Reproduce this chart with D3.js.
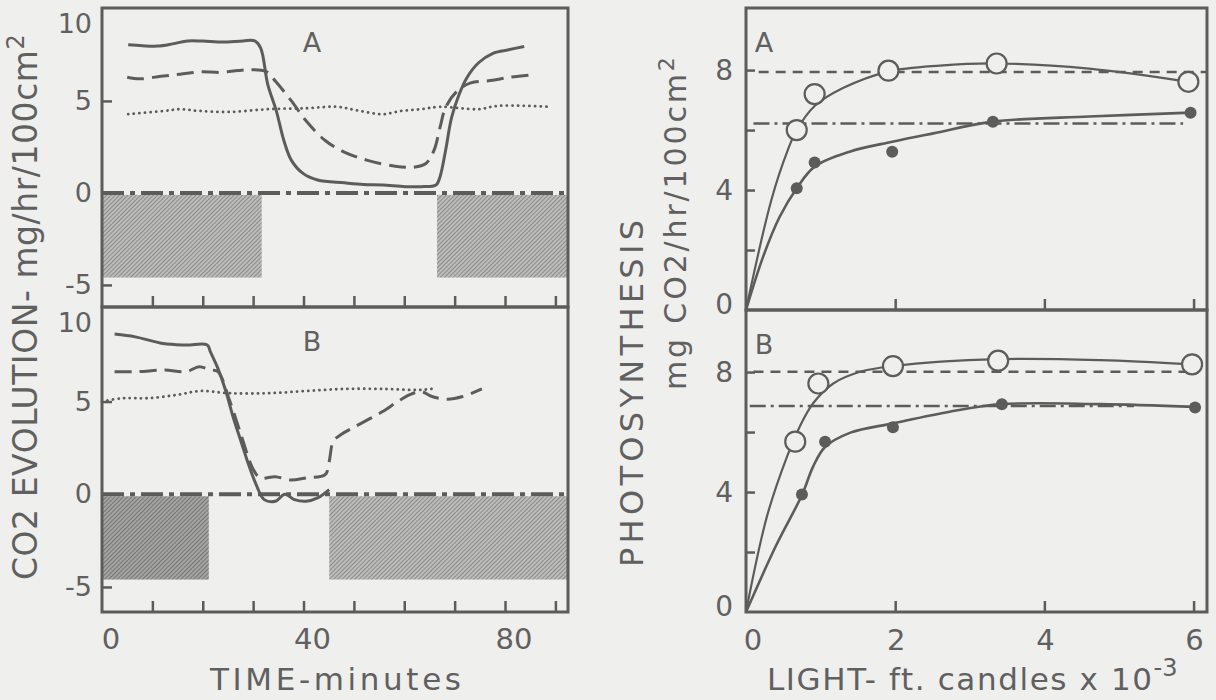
<!DOCTYPE html>
<html><head><meta charset="utf-8">
<script src="https://cdn.jsdelivr.net/npm/d3@7"></script>
<style>
html,body{margin:0;padding:0;background:#efefed;}
svg{display:block;}
text{font-family:"DejaVu Sans",sans-serif;fill:#606060;}
</style>
</head><body>
<svg id="chart" width="1216" height="700"></svg>
<script>
// ---------------- data ----------------
// Left: CO2 evolution vs time (minutes)
const timeTicks = [10,20,30,40,50,60,70,80,90];
const timeLabels = [0,40,80];
const evoTicks = [5,-5];
const evoLabels = [10,5,0,-5];

// Panel A traces [minute, mg/hr/100cm2]
const aSolid = [[5.2,8.05],[8,8.0],[11,7.98],[14,8.1],[17,8.26],[20,8.25],[24,8.2],[28,8.26],[30.3,8.26],[31.5,7.87],[32.9,5.9],[34.6,4.46],[36.1,2.85],[37.6,1.77],[39.9,1.06],[42.8,0.7],[48.1,0.55],[51.9,0.46],[55.7,0.43],[60.2,0.34],[63.3,0.34],[66.3,0.43],[67.1,0.88],[68.2,2.31],[69.4,4.1],[70.9,5.36],[72.4,6.25],[74.7,7.06],[77.7,7.6],[80.7,7.78],[83.8,7.96]];
const aDashed = [[5.0,6.29],[7.5,6.2],[11.7,6.34],[15.5,6.45],[19.5,6.58],[23.5,6.55],[27,6.65],[29.6,6.7],[32.6,6.6],[34.4,6.08],[37.6,5.0],[40.5,3.92],[44.3,2.85],[48.1,2.22],[52.7,1.77],[58.2,1.45],[61.9,1.4],[64.3,1.6],[65.9,2.31],[67.1,3.56],[68.2,4.64],[70.5,5.54],[73.2,5.98],[77.1,6.11],[81.1,6.29],[84.9,6.4]];
const aDotted = [[5.2,4.28],[12.4,4.46],[15.5,4.55],[19.2,4.46],[25.3,4.4],[32.9,4.55],[40.5,4.6],[46.6,4.68],[51.1,4.46],[55.7,4.28],[59.5,4.46],[63.3,4.55],[67.1,4.68],[74.7,4.55],[78.5,4.73],[89.1,4.68]];
const aDark = [[0,31.7],[66.3,92.5]];

// Panel B traces
const bSolid = [[2.5,8.64],[6.6,8.49],[12.1,8.13],[16.7,8.05],[20.9,8.05],[21.5,7.69],[23.0,6.79],[24.6,5.54],[26.1,4.1],[27.6,2.85],[29.1,1.6],[30.6,0.52],[32.2,-0.29],[34.4,-0.38],[36.3,0.0],[38.2,-0.29],[40.5,-0.38],[42.8,-0.2],[45.1,0.25]];
const bDashed = [[2.5,6.61],[7,6.61],[12.4,6.7],[16.7,6.61],[19.3,6.88],[21.5,6.7],[23,6.61],[25.4,5.0],[27.6,3.21],[29.9,1.41],[31.4,0.88],[34.4,0.95],[37.4,0.77],[40.5,0.88],[44.3,1.06],[45.1,1.77],[45.9,2.85],[47.4,3.21],[49.7,3.57],[52.7,4.01],[55.7,4.46],[58.7,5.0],[61.0,5.36],[63.3,5.54],[65.5,5.27],[68.6,5.13],[71.6,5.27],[75.4,5.68]];
const bDotted = [[0,5.0],[4,5.18],[9,5.18],[14.9,5.36],[19.5,5.57],[25.4,5.45],[33,5.45],[40.5,5.57],[48.1,5.68],[55.7,5.68],[63.3,5.63],[66.3,5.72]];
const bDark = [[0,21.2],[44.9,92.5]];
const darkDepth = -4.6;

// Right: photosynthesis vs light (ft. candles x 10^-3)
const lightTicks = [2,4,6];
const lightLabels = [0,2,4,6];
const photoTicks = [2,4,6,8];
const photoLabels = [0,4,8];

const openA = [[0.68,6.0],[0.92,7.2],[1.91,7.98],[3.36,8.22],[5.93,7.61]];
const filledA = [[0.68,4.06],[0.92,4.92],[1.96,5.28],[3.31,6.28],[5.96,6.58]];
const openCurveA = [[0,0],[0.34,3.67],[0.56,5.33],[0.68,6.0],[0.92,6.8],[1.3,7.4],[1.91,7.95],[2.6,8.15],[3.36,8.22],[4.6,8.05],[5.93,7.61]];
const filledCurveA = [[0,0],[0.23,1.78],[0.45,3.1],[0.68,4.06],[0.92,4.78],[1.39,5.28],[1.96,5.61],[2.51,5.89],[3.31,6.28],[4.6,6.45],[5.96,6.58]];
const refDashA = [7.94, 0.17, 6.18];
const refDotDashA = [6.22, 0.1, 5.86];

const openB = [[0.66,5.68],[0.97,7.62],[1.97,8.2],[3.38,8.38],[5.98,8.26]];
const filledB = [[0.75,3.92],[1.06,5.68],[1.97,6.16],[3.43,6.93],[6.02,6.82]];
const openCurveB = [[0,0],[0.28,3.18],[0.55,5.18],[0.72,6.18],[0.9,6.96],[1.17,7.62],[1.53,8.01],[1.97,8.2],[3.38,8.43],[4.75,8.4],[5.98,8.26]];
const filledCurveB = [[0,0],[0.4,2.2],[0.75,3.9],[0.9,4.85],[1.06,5.5],[1.4,5.98],[1.97,6.29],[2.73,6.68],[3.43,6.93],[4.75,6.93],[6.02,6.84]];
const refDashB = [8.01, 0.1, 5.9];
const refDotDashB = [6.87, 0.05, 5.2];

// ---------------- drawing ----------------
const INK = "#5c5c5c";
const BG = "#efefed";
const svg = d3.select("#chart");

const defs = svg.append("defs");
function hatch(id, bg, line) {
  const p = defs.append("pattern").attr("id", id).attr("patternUnits","userSpaceOnUse")
    .attr("width", 3).attr("height", 3).attr("patternTransform","rotate(45)");
  p.append("rect").attr("width",3).attr("height",3).attr("fill",bg);
  p.append("line").attr("x1",0).attr("y1",0).attr("x2",0).attr("y2",3)
    .attr("stroke",line).attr("stroke-width",1.4);
}
hatch("h1", "#bdbdbb", "#747474");
hatch("h2", "#a4a4a2", "#606060");

const xT = d3.scaleLinear().domain([0, 92.5]).range([102, 568]);
const yA = d3.scaleLinear().domain([-6.2, 10.05]).range([307, 8]);
const yB = d3.scaleLinear().domain([-6.35, 10.1]).range([612, 307]);

const xL = d3.scaleLinear().domain([0, 6.18]).range([746, 1207]);
const yRA = d3.scaleLinear().domain([0, 10.07]).range([310, 8]);
const yRB = d3.scaleLinear().domain([0, 10.07]).range([612, 310]);

function styleAxis(g) {
  g.select(".domain").remove();
  g.selectAll(".tick line").attr("stroke", INK).attr("stroke-width", 2.5);
  g.selectAll(".tick text").remove();
}

function leftPanel(y, solid, dashed, dotted, dark, label, hatchIds) {
  const g = svg.append("g");
  g.selectAll("rect.dark").data(dark).join("rect")
    .attr("x", d => xT(d[0]) + 1).attr("width", d => xT(d[1]) - xT(d[0]) - 1)
    .attr("y", y(0) + 2).attr("height", y(darkDepth) - y(0) - 2)
    .attr("fill", (d, i) => `url(#${hatchIds[i]})`);
  g.append("line").attr("x1", xT(0)).attr("x2", xT(92.5)).attr("y1", y(0)).attr("y2", y(0))
    .attr("stroke", INK).attr("stroke-width", 4).attr("stroke-dasharray", "22,6,5,6");
  const line = d3.line().x(d => xT(d[0])).y(d => y(d[1])).curve(d3.curveCatmullRom.alpha(0.5));
  g.append("path").attr("d", line(solid)).attr("fill","none").attr("stroke",INK).attr("stroke-width",3);
  g.append("path").attr("d", line(dashed)).attr("fill","none").attr("stroke",INK).attr("stroke-width",3)
    .attr("stroke-dasharray","17,8");
  g.append("path").attr("d", line(dotted)).attr("fill","none").attr("stroke",INK).attr("stroke-width",2.8)
    .attr("stroke-dasharray","0.1,5.5").attr("stroke-linecap","round");
  g.append("rect").attr("x", xT(0)).attr("y", y.range()[1]).attr("width", xT(92.5) - xT(0))
    .attr("height", y.range()[0] - y.range()[1]).attr("fill","none").attr("stroke",INK).attr("stroke-width",3);
  g.append("g").attr("transform", `translate(0,${y.range()[0]})`)
    .call(d3.axisBottom(xT).tickValues(timeTicks).tickSize(-11).tickFormat("")).call(styleAxis);
  g.append("g").attr("transform", `translate(${xT(0)},0)`)
    .call(d3.axisLeft(y).tickValues(evoTicks).tickSize(-10).tickFormat("")).call(styleAxis);
  g.selectAll("text.yl").data(evoLabels).join("text")
    .attr("x", 92).attr("y", v => Math.max(y(v), y.range()[1] + 16) + 9)
    .attr("text-anchor","end").attr("font-size", 27).text(v => v < 0 ? "-" + Math.abs(v) : v);
  g.append("text").attr("x", 312).attr("y", y.range()[1] + 44).attr("text-anchor","middle")
    .attr("font-size", 27).text(label);
}

leftPanel(yA, aSolid, aDashed, aDotted, aDark, "A", ["h1","h1"]);
leftPanel(yB, bSolid, bDashed, bDotted, bDark, "B", ["h2","h1"]);

svg.selectAll("text.xl").data(timeLabels).join("text")
  .attr("x", v => xT(v) + 9).attr("y", 649).attr("text-anchor","middle")
  .attr("font-size", 29).text(v => v);

svg.append("text").attr("x", 210).attr("y", 690).attr("font-size", 31)
  .attr("textLength", 251).attr("lengthAdjust","spacing").text("TIME-minutes");

const lt = svg.append("text").attr("transform","translate(37,580) rotate(-90)")
  .attr("font-size", 33);
lt.append("tspan").attr("textLength", 530).attr("lengthAdjust","spacing").text("CO2 EVOLUTION- mg/hr/100cm");
lt.append("tspan").attr("font-size", 24).attr("dy", -13).text("2");

function rightPanel(y, openPts, filledPts, openCurve, filledCurve, refDash, refDotDash, label) {
  const g = svg.append("g");
  g.append("line").attr("x1", xL(refDash[1])).attr("x2", xL(refDash[2]))
    .attr("y1", y(refDash[0])).attr("y2", y(refDash[0]))
    .attr("stroke", INK).attr("stroke-width", 2.5).attr("stroke-dasharray","10,7");
  g.append("line").attr("x1", xL(refDotDash[1])).attr("x2", xL(refDotDash[2]))
    .attr("y1", y(refDotDash[0])).attr("y2", y(refDotDash[0]))
    .attr("stroke", INK).attr("stroke-width", 2.5).attr("stroke-dasharray","16,5,3,5");
  const line = d3.line().x(d => xL(d[0])).y(d => y(d[1])).curve(d3.curveCatmullRom.alpha(0.5));
  g.append("path").attr("d", line(openCurve)).attr("fill","none").attr("stroke",INK).attr("stroke-width",2.2);
  g.append("path").attr("d", line(filledCurve)).attr("fill","none").attr("stroke",INK).attr("stroke-width",2.6);
  g.selectAll("circle.o").data(openPts).join("circle")
    .attr("cx", d => xL(d[0])).attr("cy", d => y(d[1])).attr("r", 10)
    .attr("fill", BG).attr("stroke", INK).attr("stroke-width", 2.2);
  g.selectAll("circle.f").data(filledPts).join("circle")
    .attr("cx", d => xL(d[0])).attr("cy", d => y(d[1])).attr("r", 6).attr("fill", INK);
  g.append("rect").attr("x", xL(0)).attr("y", y.range()[1]).attr("width", xL(6.18) - xL(0))
    .attr("height", y.range()[0] - y.range()[1]).attr("fill","none").attr("stroke",INK).attr("stroke-width",3);
  g.append("g").attr("transform", `translate(0,${y.range()[0]})`)
    .call(d3.axisBottom(xL).tickValues(lightTicks).tickSize(-11).tickFormat("")).call(styleAxis);
  g.append("g").attr("transform", `translate(${xL(0)},0)`)
    .call(d3.axisLeft(y).tickValues(photoTicks).tickSize(-9).tickFormat("")).call(styleAxis);
  g.selectAll("text.yl").data(photoLabels).join("text")
    .attr("x", 733).attr("y", v => Math.min(y(v), y.range()[0] - 6) + 10)
    .attr("text-anchor","end").attr("font-size", 28).text(v => v);
  g.append("text").attr("x", 764).attr("y", y.range()[1] + 44).attr("text-anchor","middle")
    .attr("font-size", 27).text(label);
}

rightPanel(yRA, openA, filledA, openCurveA, filledCurveA, refDashA, refDotDashA, "A");
rightPanel(yRB, openB, filledB, openCurveB, filledCurveB, refDashB, refDotDashB, "B");

svg.selectAll("text.rxl").data(lightLabels).join("text")
  .attr("x", v => xL(v) + (v === 0 ? 7 : 1)).attr("y", 650).attr("text-anchor","middle")
  .attr("font-size", 29).text(v => v);

const bt = svg.append("text").attr("x", 767).attr("y", 690).attr("font-size", 31);
bt.append("tspan").attr("textLength", 385).attr("lengthAdjust","spacing").text("LIGHT- ft. candles x 10");
bt.append("tspan").attr("font-size", 24).attr("dy", -14).text("-3");

svg.append("text").attr("transform","translate(643,567) rotate(-90)").attr("font-size", 32)
  .attr("textLength", 347).attr("lengthAdjust","spacing").text("PHOTOSYNTHESIS");
const rt = svg.append("text").attr("transform","translate(686,390) rotate(-90)").attr("font-size", 30);
rt.append("tspan").attr("textLength", 316).attr("lengthAdjust","spacing").text("mg CO2/hr/100cm");
rt.append("tspan").attr("font-size", 22).attr("dy", -12).text("2");
</script>
</body></html>
